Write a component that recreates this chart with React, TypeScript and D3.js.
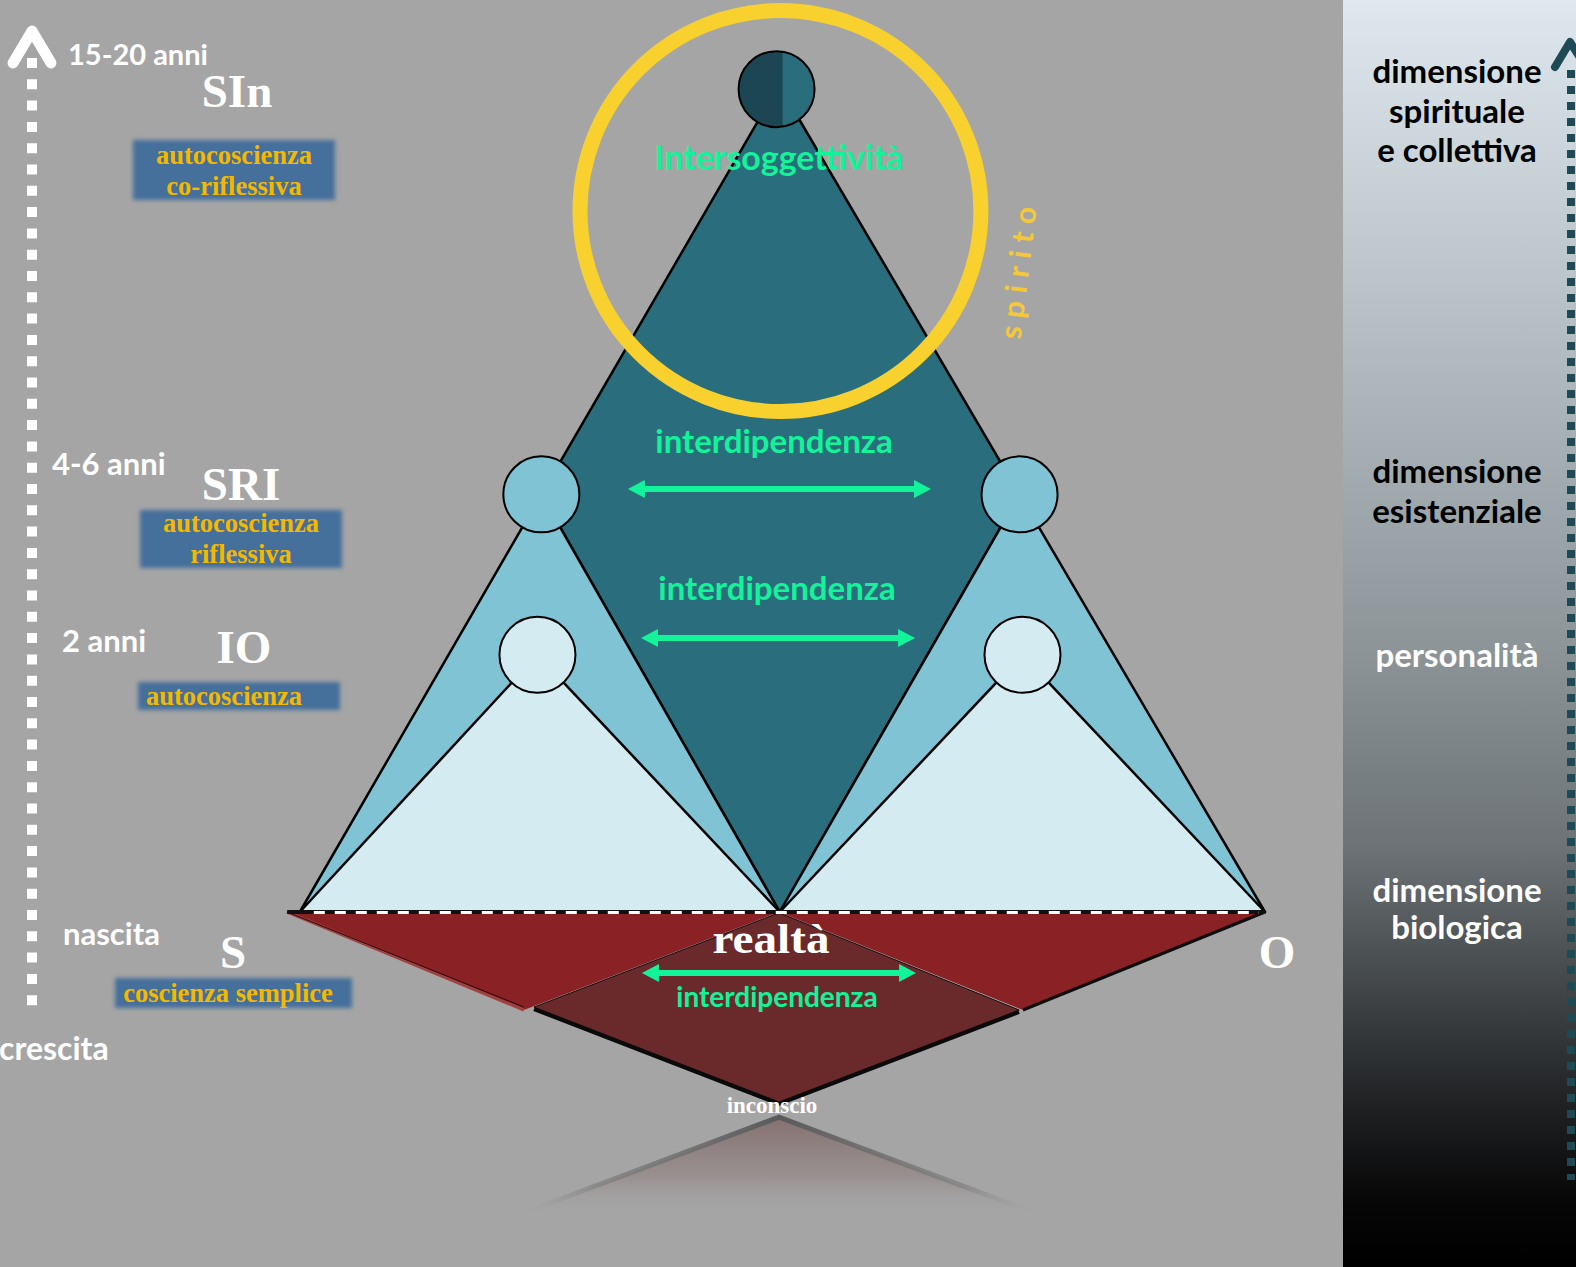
import React from "react";
import * as d3 from "d3";

const W = 1576;
const H = 1267;

// ---- content (labels & levels) ----
const ageLabels = ["15-20 anni", "4-6 anni", "2 anni", "nascita"];
const stageNames = ["SIn", "SRI", "IO", "S"];
const stageDescriptions = [
  ["autocoscienza", "co-riflessiva"],
  ["autocoscienza", "riflessiva"],
  ["autocoscienza"],
  ["coscienza semplice"],
];
const interdipLabels = ["interdipendenza", "interdipendenza", "interdipendenza"];
const dimensionLabels = [
  ["dimensione", "spirituale", "e collettiva"],
  ["dimensione", "esistenziale"],
  ["personalità"],
  ["dimensione", "biologica"],
];
const dimensionColors = ["#000000", "#000000", "#ffffff", "#ffffff"];
// vertical levels (0 = base "realtà", 1 = apex)
const nodeLevels = [0.995, 0.505, 0.311, 0];
const sriX = [-0.489, 0.495];
const ioX = [-0.497, 0.501];
const arrowLevels = [0.5115, 0.3313, -0.0738];
const arrowSpans = [
  [-0.311, 0.3128],
  [-0.284, 0.28],
  [-0.282, 0.282],
];

const x = d3.scaleLinear().domain([-1, 1]).range([293, 1265]);
const y = d3.scaleLinear().domain([0, 1]).range([912, 85]);
const line = d3.line<[number, number]>();
const poly = (pts: [number, number][]) => line(pts) + "Z";
const P = (a: number, b: number): [number, number] => [x(a), y(b)];

const SANS = "Lato, 'Open Sans', sans-serif";
const SERIF = "'Liberation Serif', 'Times New Roman', serif";
const GREEN = "#12f39a";
const YELLOW = "#f4b800";

function Arrow({ x1, x2, yy }: { x1: number; x2: number; yy: number }) {
  const hl = 17;
  const hw = 9;
  return (
    <g fill={GREEN}>
      <line x1={x1 + hl - 2} x2={x2 - hl + 2} y1={yy} y2={yy} stroke={GREEN} strokeWidth={6} />
      <path d={poly([[x1, yy], [x1 + hl, yy - hw], [x1 + hl, yy + hw]])} />
      <path d={poly([[x2, yy], [x2 - hl, yy - hw], [x2 - hl, yy + hw]])} />
    </g>
  );
}

export default function App() {
  const R = 38;
  const base = y(0);
  const apex = P(0, 1);
  const sriL = P(sriX[0], nodeLevels[1]);
  const sriR = P(sriX[1], nodeLevels[1]);
  const ioL = P(ioX[0], nodeLevels[2]);
  const ioR = P(ioX[1], nodeLevels[2]);
  const bL = P(-0.986, 0);
  const bC = P(0.0016, 0);
  const bR = P(1, 0);
  const top = P(-0.005, nodeLevels[0]);

  const redL: [number, number][] = [P(-1.012, 0), P(0, 0), P(-0.525, -0.1185)];
  const redR: [number, number][] = [P(0, 0), P(1, 0), P(0.502, -0.1185)];
  const diamond: [number, number][] = [P(0, -0.001), P(-0.504, -0.115), P(0, -0.2297), P(0.494, -0.1185)];
  const refl: [number, number][] = [P(0, -0.248), P(-0.537, -0.3664), P(0.537, -0.3664)];

  const ringC = P(0.003, 0.8476);
  const ringR = y(0) - y(0.2424);

  const boxes = [
    { x: 133, y: 140, w: 202, h: 60, cx: 234, bl: [164, 195] },
    { x: 140, y: 510, w: 202, h: 58, cx: 241, bl: [532, 563] },
    { x: 138, y: 682, w: 202, h: 28, cx: 224, bl: [705] },
    { x: 115, y: 978, w: 237, h: 30, cx: 228, bl: [1002] },
  ];
  const stagePos = [
    { cx: 237, bl: 107 },
    { cx: 241, bl: 500 },
    { cx: 244, bl: 663 },
    { cx: 233, bl: 968 },
  ];
  const agePos = [
    { x: 68, bl: 65 },
    { x: 52, bl: 475 },
    { x: 62, bl: 652 },
    { x: 63, bl: 945 },
  ];
  const dimPos = [
    { bl: 83, lh: 39.5 },
    { bl: 483, lh: 40 },
    { bl: 667, lh: 40 },
    { bl: 902, lh: 37 },
  ];
  const interPos = [
    { cx: 774, bl: 453, fs: 33 },
    { cx: 777, bl: 600, fs: 33 },
    { cx: 777, bl: 1007, fs: 28 },
  ];

  return (
    <svg
      width={W}
      height={H}
      viewBox={`0 0 ${W} ${H}`}
      style={{ position: "absolute", left: 0, top: 0, display: "block" }}
    >
      <defs>
        <linearGradient id="panel" x1="0" y1="0" x2="0" y2="1">
          <stop offset="0" stopColor="#dee8ee" />
          <stop offset="0.16" stopColor="#c4ced3" />
          <stop offset="0.32" stopColor="#aab4b9" />
          <stop offset="0.51" stopColor="#8d9599" />
          <stop offset="0.67" stopColor="#6c7275" />
          <stop offset="0.79" stopColor="#3e4245" />
          <stop offset="0.87" stopColor="#202224" />
          <stop offset="0.95" stopColor="#060606" />
          <stop offset="1" stopColor="#000000" />
        </linearGradient>
        <linearGradient id="reflFill" x1="0" y1={y(-0.248)} x2="0" y2={y(-0.3664)} gradientUnits="userSpaceOnUse">
          <stop offset="0" stopColor="#857070" stopOpacity="1" />
          <stop offset="0.6" stopColor="#938686" stopOpacity="0.7" />
          <stop offset="1" stopColor="#a5a5a5" stopOpacity="0" />
        </linearGradient>
        <linearGradient id="reflEdge" x1="0" y1={y(-0.248)} x2="0" y2={y(-0.3664)} gradientUnits="userSpaceOnUse">
          <stop offset="0" stopColor="#5a5a5a" stopOpacity="1" />
          <stop offset="0.7" stopColor="#7a7a7a" stopOpacity="0.6" />
          <stop offset="1" stopColor="#a5a5a5" stopOpacity="0" />
        </linearGradient>
        <filter id="soft" x="-10%" y="-40%" width="120%" height="180%">
          <feGaussianBlur stdDeviation="2.2" />
        </filter>
        <clipPath id="leftHalf">
          <rect x={0} y={0} width={top[0] + 6} height={300} />
        </clipPath>
      </defs>

      {/* background */}
      <rect x={0} y={0} width={W} height={H} fill="#a5a5a5" />
      <rect x={1343} y={0} width={W - 1343} height={H} fill="url(#panel)" />

      {/* right dotted arrow */}
      <line x1={1571} x2={1571} y1={70} y2={1180} stroke="#1d4a56" strokeWidth={8} strokeDasharray="8 8" />
      <polyline points="1555,67 1570,42 1586,67" fill="none" stroke="#1d4a56" strokeWidth={8} strokeLinecap="round" strokeLinejoin="round" />

      {/* left dotted arrow */}
      <line x1={32} x2={32} y1={58} y2={1006} stroke="#ffffff" strokeWidth={10} strokeDasharray="10 11.3" />
      <polyline points="13,63 32,31 51,63" fill="none" stroke="#ffffff" strokeWidth={11} strokeLinecap="round" strokeLinejoin="round" />

      {/* reflection */}
      <path d={poly(refl)} fill="url(#reflFill)" />
      <path d={line([refl[1], refl[0], refl[2]]) || ""} fill="none" stroke="url(#reflEdge)" strokeWidth={5} />

      {/* realtà red planes */}
      <path d={poly(redL)} fill="#8a2124" />
      <line x1={redL[0][0]} y1={redL[0][1]} x2={redL[2][0]} y2={redL[2][1]} stroke="#a04242" strokeWidth={3} />
      <line x1={redL[0][0]} y1={redL[0][1]} x2={redL[2][0]} y2={redL[2][1] - 3} stroke="#2a0a0a" strokeWidth={1} />
      <path d={poly(redR)} fill="#8a2124" />
      <line x1={redR[1][0]} y1={redR[1][1]} x2={redR[2][0]} y2={redR[2][1]} stroke="#0d0d0d" strokeWidth={3} />
      <path d={poly(diamond)} fill="#6a2a2c" stroke="#1a0a0a" strokeWidth={1} />
      <path
        d={line([[diamond[1][0], diamond[1][1] + 2], [diamond[2][0], diamond[2][1] + 2], [diamond[3][0], diamond[3][1] + 2]]) || ""}
        fill="none"
        stroke="#0a0a0a"
        strokeWidth={4}
      />

      {/* pyramid */}
      <path d={poly([apex, sriL, bC, sriR])} fill="#2a6d7c" stroke="#000" strokeWidth={2.5} strokeLinejoin="round" />
      <path d={poly([sriL, bL, bC])} fill="#7fc3d5" stroke="#000" strokeWidth={2.5} strokeLinejoin="round" />
      <path d={poly([sriR, bC, bR])} fill="#7fc3d5" stroke="#000" strokeWidth={2.5} strokeLinejoin="round" />
      <path d={poly([ioL, bL, bC])} fill="#d4ebf1" stroke="#000" strokeWidth={2.5} strokeLinejoin="round" />
      <path d={poly([ioR, bC, bR])} fill="#d4ebf1" stroke="#000" strokeWidth={2.5} strokeLinejoin="round" />

      {/* base dashed line */}
      <line x1={x(-1.012)} x2={bR[0]} y1={base} y2={base} stroke="#111" strokeWidth={4} />
      <line x1={bL[0] + 14} x2={bR[0] - 6} y1={base + 0.5} y2={base + 0.5} stroke="#ffffff" strokeWidth={3} strokeDasharray="11 10" />

      {/* nodes */}
      <circle cx={sriL[0]} cy={sriL[1]} r={R} fill="#7fc3d5" stroke="#000" strokeWidth={2} />
      <circle cx={sriR[0]} cy={sriR[1]} r={R} fill="#7fc3d5" stroke="#000" strokeWidth={2} />
      <circle cx={ioL[0]} cy={ioL[1]} r={R} fill="#d4ebf1" stroke="#000" strokeWidth={2} />
      <circle cx={ioR[0]} cy={ioR[1]} r={R} fill="#d4ebf1" stroke="#000" strokeWidth={2} />
      <circle cx={top[0]} cy={top[1]} r={R} fill="#2a6d7c" />
      <circle cx={top[0]} cy={top[1]} r={R} fill="#1c4653" clipPath="url(#leftHalf)" />
      <circle cx={top[0]} cy={top[1]} r={R} fill="none" stroke="#000" strokeWidth={2} />

      {/* yellow ring */}
      <circle cx={ringC[0]} cy={ringC[1]} r={ringR} fill="none" stroke="#f8d12f" strokeWidth={15} />

      {/* spirito */}
      <text
        transform="translate(1029,270) rotate(-83)"
        textAnchor="middle"
        fontFamily={SANS}
        fontWeight={700}
        fontSize={30}
        letterSpacing={8}
        fill="#f5c83a"
      >
        spirito
      </text>

      {/* green labels & arrows */}
      <text x={779} y={170} textAnchor="middle" fontFamily={SANS} fontWeight={700} fontSize={34} fill={GREEN}>
        Intersoggettività
      </text>
      {interdipLabels.map((t, i) => (
        <text key={"il" + i} x={interPos[i].cx} y={interPos[i].bl} textAnchor="middle" fontFamily={SANS} fontWeight={700} fontSize={interPos[i].fs} fill={GREEN}>
          {t}
        </text>
      ))}
      {arrowLevels.map((lv, i) => (
        <Arrow key={"ar" + i} x1={x(arrowSpans[i][0])} x2={x(arrowSpans[i][1])} yy={y(lv)} />
      ))}

      {/* realtà / inconscio / O */}
      <text x={771} y={953} textAnchor="middle" fontFamily={SERIF} fontWeight={700} fontSize={42} fill="#fff" textLength={117} lengthAdjust="spacingAndGlyphs">
        realtà
      </text>
      <text x={772} y={1113} textAnchor="middle" fontFamily={SERIF} fontWeight={700} fontSize={23} fill="#fff">
        inconscio
      </text>
      <text x={1277} y={968} textAnchor="middle" fontFamily={SERIF} fontWeight={700} fontSize={47} fill="#fff">
        O
      </text>

      {/* left column */}
      {boxes.map((b, i) => (
        <rect key={"bx" + i} x={b.x} y={b.y} width={b.w} height={b.h} fill="#446f9b" filter="url(#soft)" />
      ))}
      {stageDescriptions.map((lines, i) =>
        lines.map((t, j) => (
          <text key={"sd" + i + j} x={boxes[i].cx} y={boxes[i].bl[j]} textAnchor="middle" fontFamily={SERIF} fontWeight={700} fontSize={26.5} fill={YELLOW}>
            {t}
          </text>
        ))
      )}
      {stageNames.map((t, i) => (
        <text key={"sn" + i} x={stagePos[i].cx} y={stagePos[i].bl} textAnchor="middle" fontFamily={SERIF} fontWeight={700} fontSize={47} fill="#fff">
          {t}
        </text>
      ))}
      {ageLabels.map((t, i) => (
        <text key={"ag" + i} x={agePos[i].x} y={agePos[i].bl} fontFamily={SANS} fontWeight={700} fontSize={i === 0 ? 29 : 31} fill="#fff">
          {t}
        </text>
      ))}
      <text x={-1} y={1060} fontFamily={SANS} fontWeight={700} fontSize={32} fill="#fff">
        crescita
      </text>

      {/* right column */}
      {dimensionLabels.map((lines, i) =>
        lines.map((t, j) => (
          <text key={"dm" + i + j} x={1457} y={dimPos[i].bl + j * dimPos[i].lh} textAnchor="middle" fontFamily={SANS} fontWeight={700} fontSize={33} fill={dimensionColors[i]}>
            {t}
          </text>
        ))
      )}
    </svg>
  );
}
